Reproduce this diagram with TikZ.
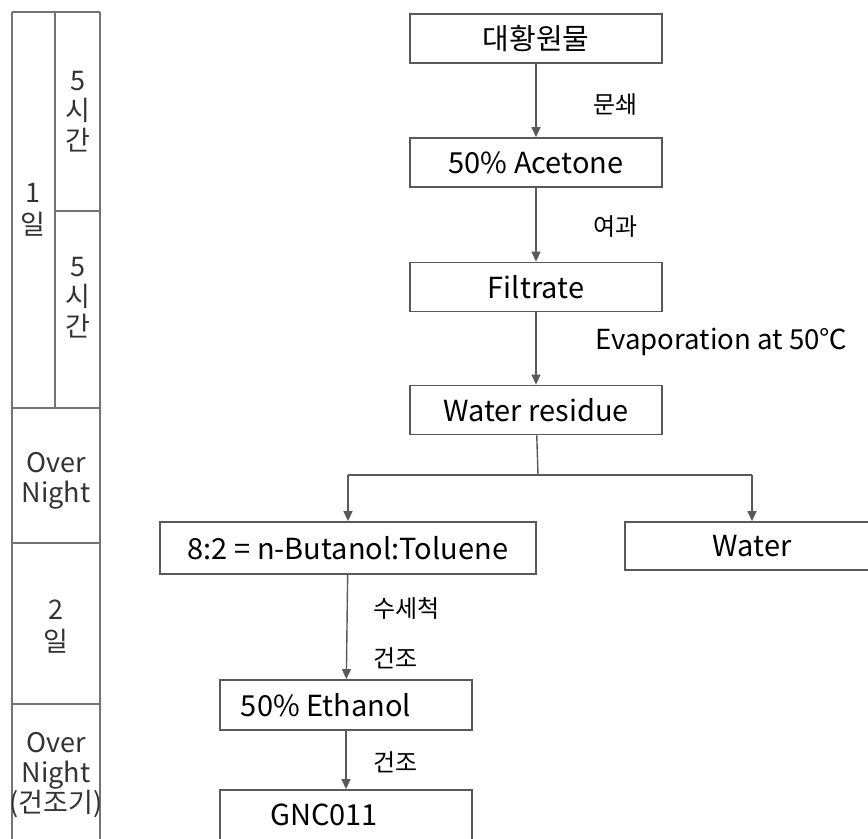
\documentclass[tikz,border=0pt]{standalone}
\usepackage{fontspec}
\setmainfont{Noto Sans CJK KR}
\usetikzlibrary{arrows.meta}

\tikzset{
  box/.style={draw=black!65, line width=0.9pt, minimum width=126pt,
    minimum height=24.5pt, inner sep=0pt, font=\fontsize{14.5}{16}\selectfont},
  flow/.style={draw=black!65, line width=0.7pt,
    -{Triangle[length=5pt,width=4.5pt]}},
  note/.style={anchor=west, inner sep=0pt, font=\fontsize{12}{14}\selectfont},
  cell/.style={align=center, inner sep=0pt, text=black!80,
    font=\fontsize{13.5}{15}\selectfont},
  tbl/.style={draw=black!55, line width=1pt}
}

\begin{document}
\begin{tikzpicture}[x=0.5pt,y=-0.5pt]

    \useasboundingbox (0,0) rectangle (868,839);
    \clip (0,0) rectangle (868,839);

% Tabla de tiempos
	\draw[tbl] (12,12) -- (100,12);
	\foreach \y in {408, 543, 704}
		\draw[tbl] (12,\y) -- (100,\y);
	\draw[tbl] (55,211) -- (100,211);
	\foreach \x in {12, 100}
		\draw[tbl] (\x,12) -- (\x,860);
	\draw[tbl] (55,12) -- (55,408);

	\node[cell] (dayone)  at (33,210)  {1\\[1pt]일};
	\node[cell] (hrsa)    at (78,112)  {5\\시\\간};
	\node[cell] (hrsb)    at (78,298)  {5\\시\\간};
	\node[cell] (nighta)  at (56,481)  {Over\\Night};
	\node[cell] (daytwo)  at (56,627)  {2\\[1pt]일};
	\node[cell] (nightb)  at (56,775)  {Over\\Night\\(건조기)};

% Proceso
	\node[box] (raw)      at (536,38.5) {대황원물};
	\node[box] (acetone)  at (536,162.5) {50\% Acetone};
	\node[box] (filtrate) at (536,287)  {Filtrate};
	\node[box] (residue)  at (536,410)  {Water residue};
	\node[box, minimum width=188pt, minimum height=26pt]
	                      (butanol) at (348,548) {8:2 = n-Butanol:Toluene};
	\node[box, minimum width=127pt, minimum height=24pt]
	                      (water)   at (752,546) {Water};
	\node[box, minimum height=25pt] (ethanol) at (346,705) {50\% Ethanol\hspace*{20pt}};
	\node[box, minimum height=25pt] (gnc)     at (346,815) {GNC011\hspace*{22pt}};

	\coordinate (split) at (538,475);

	\draw[flow] (raw) -- (acetone);
	\draw[flow] (acetone) -- (filtrate);
	\draw[flow] (filtrate) -- (residue);
	\draw[draw=black!65, line width=0.7pt] (residue) -- (split);
	\draw[draw=black!65, line width=0.7pt] (split -| butanol.north) -- (split -| water.north);
	\draw[flow] (split -| butanol.north) -- (butanol);
	\draw[flow] (split -| water.north) -- (water);
	\draw[flow] (butanol) -- (ethanol);
	\draw[flow] (ethanol) -- (gnc);

	\node[note] (grind) at (593,105) {문쇄};
	\node[note] (filt)  at (593,227) {여과};
	\node[note, font=\fontsize{13.8}{15}\selectfont] (evap) at (595,342) {Evaporation at 50℃};
	\node[note] (wash)  at (373,608) {수세척};
	\node[note] (drya)  at (373,658) {건조};
	\node[note] (dryb)  at (373,762) {건조};
\end{tikzpicture}
\end{document}
